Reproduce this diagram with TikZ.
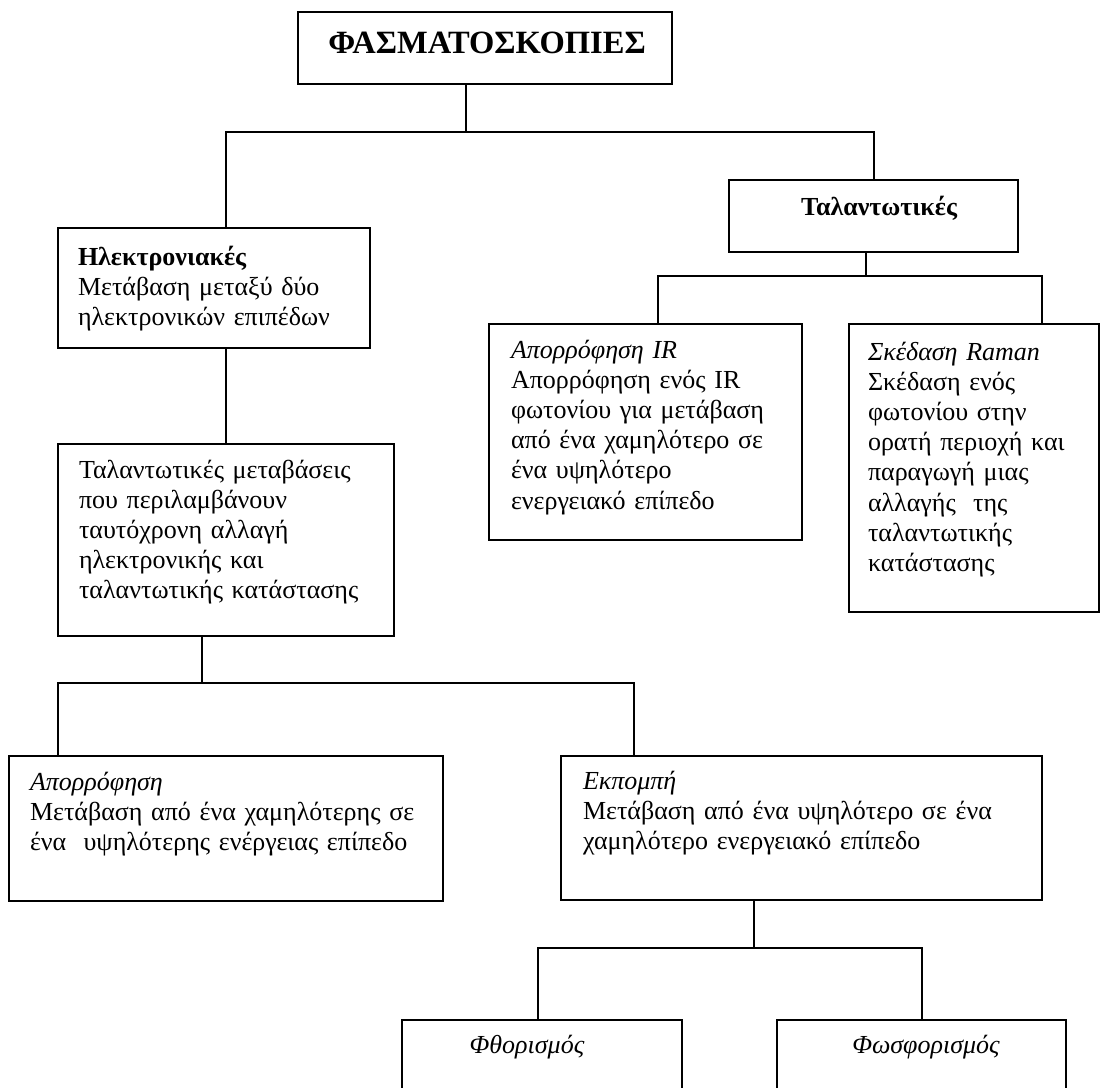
\documentclass[tikz,border=0pt]{standalone}
\usepackage{fontspec}
\setmainfont{Liberation Serif}
\begin{document}
\begin{tikzpicture}[x=1pt,y=-1pt,
  box/.style={draw, line width=1.5pt, inner sep=0pt, outer sep=0pt, rectangle, anchor=north west},
  txt/.style={inner sep=0pt, outer sep=0pt, text width=480pt, align=left, anchor=base west, font=\fontsize{26}{30.2}\selectfont},
  lbl/.style={inner sep=0pt, outer sep=0pt, anchor=base, font=\fontsize{26}{30.2}\selectfont},
  conn/.style={line width=1.5pt}]
\useasboundingbox (0,0) rectangle (1100,1087);
\fill[white] (0,0) rectangle (1100,1087);
\clip (0,0) rectangle (1100,1087);

% boxes
\node[box, minimum width=374pt, minimum height=72pt]  (top)   at (298,12)   {};
\node[box, minimum width=312pt, minimum height=120pt] (elec)  at (58,228)   {};
\node[box, minimum width=289pt, minimum height=72pt]  (tal)   at (729,180)  {};
\node[box, minimum width=313pt, minimum height=216pt] (ir)    at (489,324)  {};
\node[box, minimum width=250pt, minimum height=288pt] (raman) at (849,324)  {};
\node[box, minimum width=336pt, minimum height=192pt] (tm)    at (58,444)   {};
\node[box, minimum width=434pt, minimum height=145pt] (abs)   at (9,756)    {};
\node[box, minimum width=481pt, minimum height=144pt] (emi)   at (561,756)  {};
\node[box, minimum width=280pt, minimum height=100pt] (fluo)  at (402,1020) {};
\node[box, minimum width=289pt, minimum height=100pt] (phos)  at (777,1020) {};

% texts
\node[lbl, font=\bfseries\fontsize{32.5}{36}\selectfont] (top-t) at (487,53) {ΦΑΣΜΑΤΟΣΚΟΠΙΕΣ};
\node[txt] (elec-t) at (78,265) {\textbf{Ηλεκτρονιακές}\\ Μετάβαση μεταξύ δύο\\ ηλεκτρονικών επιπέδων};
\node[lbl, font=\bfseries\fontsize{26}{30.2}\selectfont] (tal-t) at (879,215) {Ταλαντωτικές};
\node[txt] (ir-t) at (511,358) {\textit{Απορρόφηση IR}\\ Απορρόφηση ενός IR\\ φωτονίου για μετάβαση\\ από ένα χαμηλότερο σε\\ ένα υψηλότερο\\ ενεργειακό επίπεδο};
\node[txt] (raman-t) at (868,360) {\textit{Σκέδαση Raman}\\ Σκέδαση ενός\\ φωτονίου στην\\ ορατή περιοχή και\\ παραγωγή μιας\\ αλλαγής\ \ της\\ ταλαντωτικής\\ κατάστασης};
\node[txt] (tm-t) at (79,478) {Ταλαντωτικές μεταβάσεις\\ που περιλαμβάνουν\\ ταυτόχρονη αλλαγή\\ ηλεκτρονικής και\\ ταλαντωτικής κατάστασης};
\node[txt] (abs-t) at (30,790) {\textit{Απορρόφηση}\\ Μετάβαση από ένα χαμηλότερης σε\\ ένα\ \ υψηλότερης ενέργειας επίπεδο};
\node[txt] (emi-t) at (583,789) {\textit{Εκπομπή}\\ Μετάβαση από ένα υψηλότερο σε ένα\\ χαμηλότερο ενεργειακό επίπεδο};
\node[lbl, font=\itshape\fontsize{26}{30.2}\selectfont] (fluo-t) at (527,1053) {Φθορισμός};
\node[lbl, font=\itshape\fontsize{26}{30.2}\selectfont] (phos-t) at (926,1053) {Φωσφορισμός};

% split points
\coordinate (s1) at (466,132);
\coordinate (s2) at (866,276);
\coordinate (s3) at (202,683);
\coordinate (s4) at (754,948);

% connectors
\draw[conn] (top.south -| s1) -- (s1) -| (elec.north -| 226,0);
\draw[conn] (s1) -| (tal.north -| 874,0);
\draw[conn] (elec.south -| 226,0) -- (tm.north -| 226,0);
\draw[conn] (tal.south -| s2) -- (s2) -| (ir.north -| 658,0);
\draw[conn] (s2) -| (raman.north -| 1042,0);
\draw[conn] (tm.south -| s3) -- (s3) -| (abs.north -| 58,0);
\draw[conn] (s3) -| (emi.north -| 634,0);
\draw[conn] (emi.south -| s4) -- (s4) -| (fluo.north -| 538,0);
\draw[conn] (s4) -| (phos.north -| 922,0);
\end{tikzpicture}
\end{document}
